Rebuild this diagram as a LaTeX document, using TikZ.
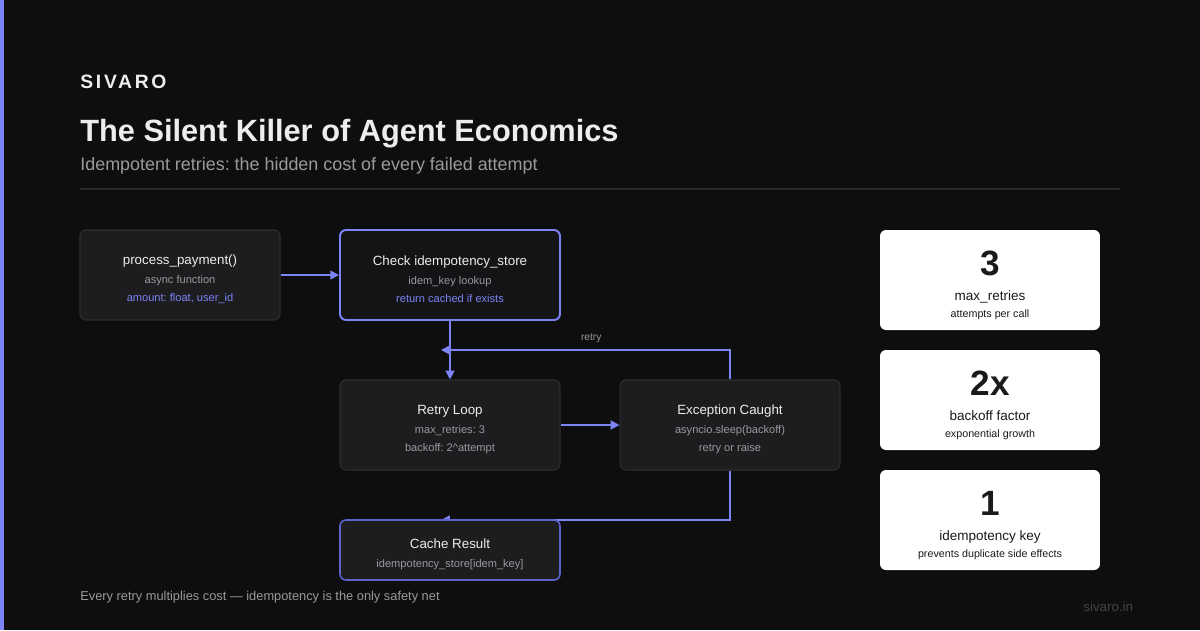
\documentclass[tikz,border=0pt]{standalone}
\usepackage{fontspec}
\setmainfont{Liberation Sans}
\usetikzlibrary{arrows.meta}
\frenchspacing
\definecolor{bgc}{HTML}{0E0E0E}
\definecolor{accent}{HTML}{7C84F6}
\definecolor{boxfill}{HTML}{1D1D1F}
\definecolor{boxline}{HTML}{2E2E31}
\definecolor{checkfill}{HTML}{141417}
\definecolor{cacheline}{HTML}{5D63C9}
\definecolor{txt}{HTML}{EDEDED}
\definecolor{subtxt}{HTML}{9A9A9E}
\definecolor{dark}{HTML}{1A1A1A}
\definecolor{rule}{HTML}{2A2A2A}
\definecolor{faint}{HTML}{444446}
\newcommand{\hd}[1]{{\fontsize{7.6}{9}\selectfont\rule{0pt}{10.3pt}#1}}
\newcommand{\sm}[1]{{\color{subtxt}#1}}
\newcommand{\bl}[1]{{\color{accent}#1}}

\begin{document}
\begin{tikzpicture}[x=0.02cm,y=-0.02cm]
\tikzstyle{card}=[draw=boxline,fill=boxfill,rounded corners=3.4pt,line width=0.6pt,minimum width=4.4cm,minimum height=1.8cm,inner sep=0pt,align=center,text=txt,font=\fontsize{6.3}{10.2}\selectfont]
\tikzstyle{stat}=[fill=white,rounded corners=3.4pt,minimum width=4.4cm,minimum height=2cm,inner sep=0pt]
\tikzstyle{num}=[anchor=base,inner sep=0pt,text=dark,font=\fontsize{20}{22}\selectfont\bfseries]
\tikzstyle{slab}=[anchor=base,inner sep=0pt,text=dark,font=\fontsize{7.7}{9}\selectfont]
\tikzstyle{ssub}=[anchor=base,inner sep=0pt,text=dark,font=\fontsize{6.1}{8}\selectfont]
\tikzstyle{flow}=[draw=accent,line width=1.1pt,-{Triangle[length=5pt,width=5pt]}]
\tikzstyle{lbl}=[anchor=base west,inner sep=0pt]
% background
\fill[bgc] (0,0) rectangle (1200,630);
\fill[accent] (0,0) rectangle (4,630);
\useasboundingbox (0,0) rectangle (1200,630);
% heading
\node[lbl,text=txt] (brand) at (80,88) {\fontsize{11}{13}\selectfont\bfseries\addfontfeature{LetterSpace=14}SIVARO};
\node[lbl,text=txt] (title) at (80,141) {\fontsize{17.5}{20}\selectfont\bfseries The Silent Killer of Agent Economics};
\node[lbl,text=subtxt] (subtitle) at (80,170) {\fontsize{10.2}{12}\selectfont Idempotent retries: the hidden cost of every failed attempt};
\draw[rule,line width=0.6pt] (80,189) -- (1120,189);
% flow boxes
\node[card,minimum width=4cm] (pay) at (180,275) {\hd{process\_payment()}\\[1pt]\sm{async function}\\\bl{amount: float, user\_id}};
\node[card,fill=checkfill,draw=accent,line width=1.1pt] (check) at (450,275) {\hd{Check idempotency\_store}\\[1pt]\sm{idem\_key lookup}\\\bl{return cached if exists}};
\node[card] (loop) at (450,425) {\hd{Retry Loop}\\[1pt]\sm{max\_retries: 3}\\\sm{backoff: 2\textasciicircum attempt}};
\node[card] (exc) at (730,425) {\hd{Exception Caught}\\[1pt]\sm{asyncio.sleep(backoff)}\\\sm{retry or raise}};
\coordinate (back) at (441,350);
\coordinate (store) at (441,520);
\path (pay) edge [flow] (check);
\path (check) edge [flow] (loop);
\path (loop) edge [flow] (exc);
\draw[flow] (exc.north) |- (back) node[pos=0.74,above=0.3pt,text=subtxt,font=\fontsize{5.8}{7}\selectfont] {retry};
\draw[flow] (exc.south) |- (store);
\node[card,minimum height=1.2cm,draw=cacheline,line width=0.9pt] (cache) at (450,550) {\hd{Cache Result}\\[1pt]\sm{idempotency\_store[idem\_key]}};
% stat cards
\node[stat] (s1) at (990,280) {};
\node[num] (n1) at (990,275) {3};
\node[slab] (l1) at (990,300) {max\_retries};
\node[ssub] (d1) at (990,317) {attempts per call};
\node[stat] (s2) at (990,400) {};
\node[num] (n2) at (990,395) {2x};
\node[slab] (l2) at (990,420) {backoff factor};
\node[ssub] (d2) at (990,437) {exponential growth};
\node[stat] (s3) at (990,520) {};
\node[num] (n3) at (990,515) {1};
\node[slab] (l3) at (990,540) {idempotency key};
\node[ssub] (d3) at (990,557) {prevents duplicate side effects};
% footer
\node[lbl,text=subtxt] (foot) at (80,600) {\fontsize{7.3}{8}\selectfont Every retry multiplies cost --- idempotency is the only safety net};
\node[lbl,text=faint] (site) at (1083,611) {\fontsize{7.6}{9}\selectfont sivaro.in};
\end{tikzpicture}
\end{document}
